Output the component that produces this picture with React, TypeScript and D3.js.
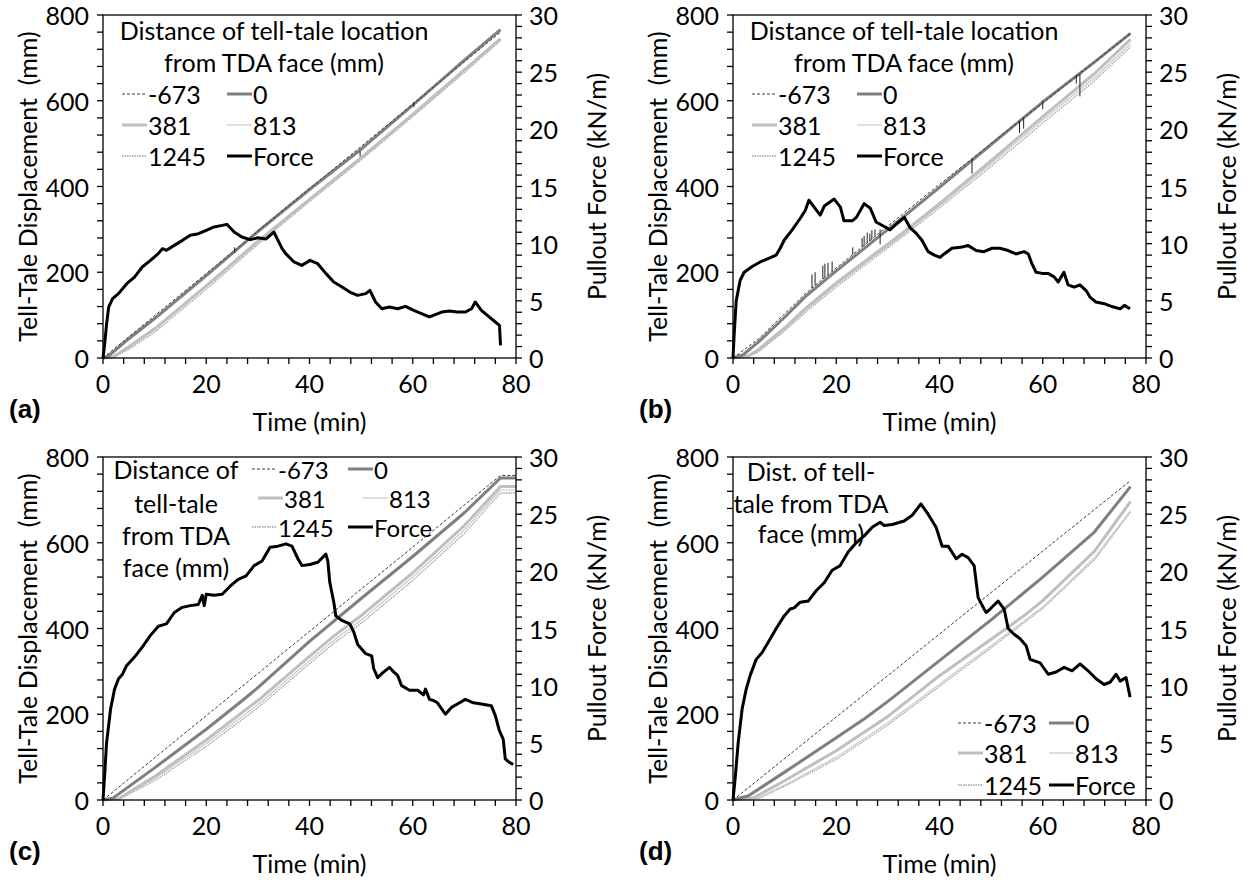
import React from 'react';
import * as d3 from 'd3';

type P = [number, number];
type S = [number, number, number];

// ---------- axis ticks ----------
const TIME_TICKS = [0, 20, 40, 60, 80];
const DISP_TICKS = [0, 200, 400, 600, 800];
const FORCE_TICKS = [0, 5, 10, 15, 20, 25, 30];
const TIME_MINOR = d3.range(0, 81, 4);
const DISP_MINOR = d3.range(0, 801, 40);
const FORCE_MINOR = d3.range(0, 31, 1);

const SERIES_NAMES = ['-673', '0', '381', '813', '1245'];

// ---------- panel (a) ----------
const forceA: P[] = [[0,0],[0.3,1.1],[0.7,3.0],[1.1,4.46],[1.85,5.19],[3.0,5.63],[4.6,6.5],[6.1,7.08],[7.6,7.96],[9.2,8.54],[10.7,9.13],[11.5,9.56],[12.3,9.42],[13.8,9.85],[15.4,10.29],[16.9,10.73],[18.5,10.87],[20.0,11.17],[21.5,11.46],[23.1,11.6],[24.0,11.69],[25.4,11.02],[26.9,10.58],[28.5,10.35],[30.0,10.52],[31.6,10.41],[33.1,11.02],[33.9,10.29],[34.7,9.56],[35.4,9.13],[37.0,8.4],[38.5,8.1],[40.1,8.54],[41.6,8.25],[43.2,7.38],[44.7,6.65],[46.3,6.21],[47.8,5.77],[49.3,5.48],[50.9,5.63],[51.7,5.92],[52.8,4.9],[54.0,4.31],[55.5,4.46],[57.1,4.31],[58.6,4.52],[60.2,4.17],[61.7,3.88],[63.2,3.59],[64.0,3.73],[65.6,4.02],[67.1,4.11],[68.6,4.02],[70.2,4.02],[71.4,4.31],[72.1,4.9],[73.3,4.17],[74.8,3.59],[76.0,3.15],[76.8,2.86],[77.0,1.1]];
const dispA_m673: P[] = [[0,0],[20,197],[40,395],[60,592],[77,760]];
const dispA_0: P[] = [[0,0],[1,4],[5,45],[10,92],[20,192],[30,295],[40,393],[50,487],[60,590],[70,695],[77,766]];
const dispA_381: P[] = [[0,0],[2,3],[5,26],[10,68],[20,168],[30,272],[40,370],[50,467],[60,568],[70,672],[77,745]];
const dispA_813: P[] = [[0,0],[2,2],[5,24],[10,66],[20,166],[30,270],[40,368],[50,465],[60,566],[70,669],[77,742]];
const dispA_1245: P[] = [[0,0],[2,1],[5,20],[10,60],[20,160],[30,265],[40,365],[50,462],[60,563],[70,666],[77,740]];
const spikesA: S[] = [[25.5,245,258],[49.8,470,482],[60.2,585,597]];

// ---------- panel (b) ----------
const forceB: P[] = [[0,0],[0.23,2.1],[0.62,5.0],[1.39,6.8],[2.17,7.5],[3.72,8.0],[5.27,8.4],[6.82,8.7],[8.37,9.0],[9.14,9.6],[9.91,10.3],[11.46,11.2],[13.0,12.2],[14.0,12.9],[14.7,13.8],[16.9,12.5],[17.7,13.3],[19.6,13.9],[20.8,13.2],[21.5,12.0],[23.1,12.0],[23.9,12.3],[25.4,13.5],[26.6,13.1],[27.7,11.9],[29.3,11.5],[30.4,11.2],[31.6,11.7],[33.2,12.3],[34.3,11.4],[35.5,10.9],[36.6,10.3],[37.8,9.3],[39.0,9.0],[40.1,8.8],[40.9,9.1],[42.4,9.6],[44.4,9.7],[45.5,9.85],[47.1,9.4],[48.6,9.3],[50.2,9.6],[51.7,9.6],[53.3,9.4],[54.8,9.1],[56.4,9.3],[57.2,9.1],[57.9,8.25],[58.7,7.5],[59.9,7.4],[61.0,7.4],[62.2,7.1],[63.0,6.65],[64.1,7.5],[64.9,6.4],[66.1,6.2],[67.2,6.4],[68.4,5.9],[69.2,5.3],[70.3,4.9],[71.9,4.75],[73.4,4.5],[75.0,4.3],[75.8,4.6],[76.9,4.3]];
const dispB_m673: P[] = [[0,0],[5,45],[14,150],[20,210],[33,337],[40,405],[50,500],[60,595],[70,690],[77,757]];
const dispB_0: P[] = [[0,0],[2,8],[5,38],[10,95],[14,143],[20,203],[33,329],[40,398],[50,498],[60,597],[70,690],[77,757]];
const dispB_381: P[] = [[0,0],[3,5],[5,20],[10,70],[14,115],[20,175],[33,293],[40,360],[50,460],[60,563],[70,663],[77,743]];
const dispB_813: P[] = [[0,0],[3,4],[5,17],[10,66],[14,110],[20,170],[33,288],[40,355],[50,453],[60,555],[70,653],[77,733]];
const dispB_1245: P[] = [[0,0],[3,3],[5,15],[10,63],[14,106],[20,166],[33,284],[40,350],[50,447],[60,548],[70,646],[77,726]];
const spikesB: S[] = [[15.3,163,195],[15.9,169,200],[17.4,184,215],[17.8,188,220],[18.4,194,222],[19.2,202,225],[23.2,241,258],[25.0,259,280],[25.4,262,285],[26.0,269,292],[26.5,273,290],[26.9,277,298],[27.5,284,300],[28.5,265,300],[46.3,430,465],[55.5,525,552],[56.3,535,560],[60,580,600],[66.5,640,660],[67.2,610,663]];

// ---------- panel (c) ----------
const forceC: P[] = [[0,0],[0.31,2.1],[0.69,5.0],[1.47,7.96],[2.24,9.7],[3.01,10.6],[3.78,11.0],[4.56,11.75],[6.1,12.5],[7.64,13.4],[9.19,14.4],[10.73,15.2],[12.28,15.4],[13.82,16.4],[15.37,16.85],[16.91,17.0],[18.46,17.1],[19.23,17.9],[19.61,17.0],[20.0,18.0],[21.54,17.9],[23.09,18.0],[24.63,18.7],[26.18,19.3],[27.72,19.6],[29.27,20.5],[30.81,20.9],[32.36,22.1],[33.9,22.2],[35.44,22.4],[36.6,22.2],[37.76,21.1],[38.53,20.5],[40.08,20.6],[41.62,20.8],[43.17,21.5],[43.55,20.9],[43.94,19.0],[44.71,17.3],[45.1,16.1],[46.26,15.7],[47.8,15.4],[48.57,14.7],[49.34,13.6],[50.89,12.8],[52.05,12.6],[52.43,11.5],[53.2,10.7],[54.36,11.2],[55.52,11.6],[56.29,11.2],[57.07,10.9],[57.84,10.0],[59.38,9.6],[60.93,9.6],[62.08,9.2],[62.47,9.7],[63.24,8.8],[64.02,8.7],[64.79,8.5],[66.33,7.5],[67.49,8.1],[68.65,8.4],[70.19,8.8],[71.74,8.5],[73.28,8.4],[75.21,8.25],[75.98,7.4],[76.76,6.1],[77.53,5.3],[77.92,3.6],[78.69,3.3],[79.46,3.1]];
const dispC_m673: P[] = [[0,0],[77,757],[80,757]];
const dispC_0: P[] = [[0,0],[2,5],[10,75],[20,165],[27,232],[30,262],[40,370],[50,470],[60,568],[70,670],[77,751],[80,751]];
const dispC_381: P[] = [[0,0],[3,3],[10,55],[20,140],[30,232],[40,335],[45,385],[50,430],[60,530],[70,640],[77,731],[80,731]];
const dispC_813: P[] = [[0,0],[3,2],[10,50],[20,132],[30,222],[40,325],[45,375],[50,420],[60,520],[70,630],[77,723],[80,723]];
const dispC_1245: P[] = [[0,0],[3,1],[10,45],[20,125],[30,215],[40,318],[45,368],[50,412],[60,512],[70,622],[77,716],[80,716]];

// ---------- panel (d) ----------
const forceD: P[] = [[0,0],[0.46,2.1],[1.0,5.0],[1.78,8.0],[2.56,9.7],[3.33,10.9],[4.49,12.3],[5.65,12.9],[6.82,13.8],[8.37,15.0],[9.91,16.1],[11.08,16.7],[11.85,16.8],[13.01,17.3],[14.56,17.4],[16.11,18.3],[17.66,19.0],[19.21,20.1],[20.76,20.5],[21.53,21.1],[22.31,21.7],[23.86,22.5],[25.41,23.1],[26.96,23.85],[28.51,24.3],[29.28,24.0],[30.83,24.1],[33.15,24.4],[34.7,24.9],[36.4,25.9],[37.79,25.0],[39.34,23.85],[40.51,22.2],[41.67,22.2],[43.22,21.1],[44.38,21.5],[45.55,21.2],[46.71,20.5],[47.48,17.7],[48.64,16.7],[49.03,16.4],[49.81,16.7],[51.36,17.4],[52.52,16.7],[53.29,15.0],[54.45,14.5],[55.62,14.1],[56.78,13.5],[57.55,12.3],[59.49,12.0],[60.26,11.5],[61.04,11.0],[62.59,11.2],[64.14,11.6],[65.69,11.3],[67.23,11.9],[68.78,11.3],[70.33,10.6],[71.88,10.1],[73.04,10.3],[74.21,11.0],[74.98,10.4],[76.14,10.7],[76.92,9.0]];
const dispD_m673: P[] = [[0,0],[77,745]];
const dispD_0: P[] = [[0,0],[3,10],[10,65],[20,145],[25.4,189],[30,230],[40,325],[50,420],[56.4,484],[60,520],[70,625],[77,731]];
const dispD_381: P[] = [[0,0],[4,5],[10,45],[20,115],[25.4,158],[30,195],[40,290],[50,375],[56.4,430],[60,465],[70,580],[77,696]];
const dispD_813: P[] = [[0,0],[5,5],[10,35],[20,100],[30,180],[40,270],[50,360],[60,450],[70,565],[77,675]];
const dispD_1245: P[] = [[0,0],[5,4],[10,32],[20,95],[30,175],[40,265],[50,355],[60,447],[70,560],[77,672]];

// ---------- styles ----------
const STYLES: Record<string, { color: string; width: number; dash?: string }> = {
  '-673': { color: '#3a3a3a', width: 1, dash: '3,2' },
  '0': { color: '#7f7f7f', width: 3 },
  '381': { color: '#bfbfbf', width: 3 },
  '813': { color: '#c9c9c9', width: 1.2 },
  '1245': { color: '#a0a0a0', width: 1.3, dash: '1.5,1' },
  'Force': { color: '#000000', width: 3 },
};

const FONT = "Lato, 'Open Sans', sans-serif";
const FS = 25;
const L = 103, R = 516, T = 15, B = 358;

type LegendItem = { name: string; x: number; y: number };
type LegendCfg = { titleX: number; titles: [string, number][]; items: LegendItem[]; fs: number };

const legendAB: LegendCfg = {
  titleX: 274, fs: 25,
  titles: [['Distance of tell-tale location', 40], ['from TDA face (mm)', 72]],
  items: [
    { name: '-673', x: 122, y: 94 }, { name: '0', x: 227, y: 94 },
    { name: '381', x: 122, y: 125 }, { name: '813', x: 227, y: 125 },
    { name: '1245', x: 122, y: 156 }, { name: 'Force', x: 227, y: 156 },
  ],
};
const legendC: LegendCfg = {
  titleX: 176, fs: 24,
  titles: [['Distance of', 37], ['tell-tale', 71], ['from TDA', 103], ['face (mm)', 135]],
  items: [
    { name: '-673', x: 252, y: 27 }, { name: '0', x: 348, y: 27 },
    { name: '381', x: 258, y: 56 }, { name: '813', x: 363, y: 56 },
    { name: '1245', x: 252, y: 85 }, { name: 'Force', x: 348, y: 85 },
  ],
};
const legendD: LegendCfg = {
  titleX: 181, fs: 25,
  titles: [['Dist. of tell-', 39], ['tale from TDA', 71], ['face (mm)', 101]],
  items: [
    { name: '-673', x: 328, y: 281 }, { name: '0', x: 419, y: 281 },
    { name: '381', x: 328, y: 311 }, { name: '813', x: 419, y: 311 },
    { name: '1245', x: 328, y: 343 }, { name: 'Force', x: 419, y: 343 },
  ],
};

type PanelProps = {
  ox: number; oy: number; tag: string; force: P[]; disp: P[][]; spikes: S[]; legend: LegendCfg;
};

function Panel({ ox, oy, tag, force, disp, spikes, legend }: PanelProps) {
  const x = d3.scaleLinear().domain([0, 80]).range([L, R]);
  const yL = d3.scaleLinear().domain([0, 800]).range([B, T]);
  const yR = d3.scaleLinear().domain([0, 30]).range([B, T]);
  const lineL = d3.line<P>().x(d => x(d[0])).y(d => yL(d[1]));
  const lineR = d3.line<P>().x(d => x(d[0])).y(d => yR(d[1]));
  const tk = 6;
  const axisColor = '#000';
  const order = [4, 3, 2, 1, 0];
  return (
    <g transform={`translate(${ox},${oy})`} fontFamily={FONT} fontSize={FS} fill="#000">
      {order.map(i => {
        const st = STYLES[SERIES_NAMES[i]];
        return <path key={i} d={lineL(disp[i]) || ''} fill="none" stroke={st.color}
          strokeWidth={st.width} strokeDasharray={st.dash} strokeLinejoin="round" />;
      })}
      {spikes.map((s, i) => (
        <line key={'s' + i} x1={x(s[0])} x2={x(s[0])} y1={yL(s[1])} y2={yL(s[2])}
          stroke="#202020" strokeWidth={1} />
      ))}
      <path d={lineR(force) || ''} fill="none" stroke={STYLES.Force.color} strokeWidth={STYLES.Force.width}
        strokeLinejoin="round" />
      <rect x={L} y={T} width={R - L} height={B - T} fill="none" stroke={axisColor} strokeWidth={1.3} />
      {TIME_MINOR.map(v => <line key={'tx' + v} x1={x(v)} x2={x(v)} y1={B} y2={B + tk} stroke={axisColor} strokeWidth={1.3} />)}
      {DISP_MINOR.map(v => <line key={'tl' + v} x1={L - tk} x2={L} y1={yL(v)} y2={yL(v)} stroke={axisColor} strokeWidth={1.3} />)}
      {FORCE_MINOR.map(v => <line key={'tr' + v} x1={R} x2={R + tk} y1={yR(v)} y2={yR(v)} stroke={axisColor} strokeWidth={1.3} />)}
      {TIME_TICKS.map(v => <text key={'lx' + v} x={x(v)} y={393} textAnchor="middle">{v}</text>)}
      {DISP_TICKS.map(v => <text key={'ll' + v} x={L - 14} y={yL(v)} textAnchor="end" dominantBaseline="central">{v}</text>)}
      {FORCE_TICKS.map(v => <text key={'lr' + v} x={R + 13} y={yR(v)} textAnchor="start" dominantBaseline="central">{v}</text>)}
      <text transform={`translate(27,${(T + B) / 2}) rotate(-90)`} textAnchor="middle" dominantBaseline="central"
        style={{ whiteSpace: 'pre' }}>{'Tell-Tale Displacement  (mm)'}</text>
      <text transform={`translate(596,${(T + B) / 2}) rotate(-90)`} textAnchor="middle" dominantBaseline="central">Pullout Force (kN/m)</text>
      <text x={(L + R) / 2} y={431} textAnchor="middle">Time (min)</text>
      <text x={9} y={418} fontFamily="'Liberation Sans', Arial, sans-serif" fontWeight="bold" fontSize={26}>{tag}</text>
      {legend.titles.map(([t, y]) => (
        <text key={t} x={legend.titleX} y={y} textAnchor="middle">{t}</text>
      ))}
      {legend.items.map(it => {
        const st = STYLES[it.name];
        return (
          <g key={it.name}>
            <line x1={it.x} x2={it.x + 25} y1={it.y} y2={it.y} stroke={st.color} strokeWidth={st.width}
              strokeDasharray={st.dash} />
            <text x={it.x + 26} y={it.y} dominantBaseline="central" fontSize={legend.fs}>{it.name}</text>
          </g>
        );
      })}
    </g>
  );
}

export default function App() {
  return (
    <svg width={1252} height={884} style={{ position: 'absolute', left: 0, top: 0, background: '#fff' }}>
      <rect width={1252} height={884} fill="#fff" />
      <Panel ox={0} oy={0} tag="(a)" force={forceA}
        disp={[dispA_m673, dispA_0, dispA_381, dispA_813, dispA_1245]} spikes={spikesA} legend={legendAB} />
      <Panel ox={630} oy={0} tag="(b)" force={forceB}
        disp={[dispB_m673, dispB_0, dispB_381, dispB_813, dispB_1245]} spikes={spikesB} legend={legendAB} />
      <Panel ox={0} oy={442} tag="(c)" force={forceC}
        disp={[dispC_m673, dispC_0, dispC_381, dispC_813, dispC_1245]} spikes={[]} legend={legendC} />
      <Panel ox={630} oy={442} tag="(d)" force={forceD}
        disp={[dispD_m673, dispD_0, dispD_381, dispD_813, dispD_1245]} spikes={[]} legend={legendD} />
    </svg>
  );
}
